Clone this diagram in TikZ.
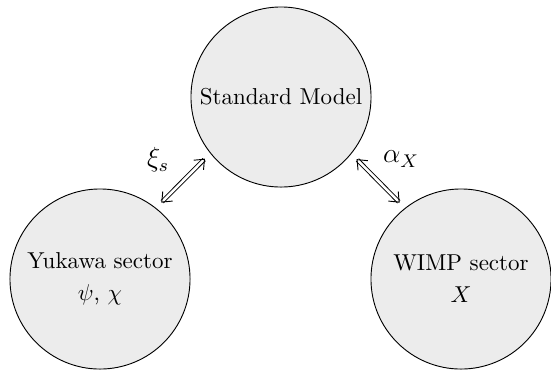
\documentclass[tikz,border=0pt]{standalone}
\usetikzlibrary{arrows.meta}
\begin{document}
\begin{tikzpicture}[x=0.4348pt,y=-0.4348pt,
  sector/.style={circle,draw=black,fill=gray!15,minimum size=78.3pt,inner sep=0pt,align=center,line width=0.4pt},
  dbl/.style={{Straight Barb[length=3.6pt,width=6pt]}-{Straight Barb[length=3.6pt,width=6pt]},double,double distance=1.1pt,line width=0.4pt},
  coup/.style={font=\large}]
\useasboundingbox (0,0) rectangle (551,371);
\node[sector] (sm) at (281,97) {Standard Model};
\node[sector] (yuk) at (100,279) {Yukawa sector\\[2pt]$\psi$, $\chi$};
\node[sector] (wimp) at (461,279) {WIMP sector\\[2pt]$X$};
\draw[dbl,shorten >=3pt,shorten <=3pt,transform canvas={shift={(-3.2pt,3.2pt)}}] (yuk) -- (sm);
\draw[dbl,shorten >=3pt,shorten <=3pt,transform canvas={shift={(3.1pt,3.1pt)}}] (sm) -- (wimp);
\node[coup] (xis) at (158,160) {$\xi_s$};
\node[coup] (alx) at (401,159) {$\alpha_X$};
\end{tikzpicture}
\end{document}
